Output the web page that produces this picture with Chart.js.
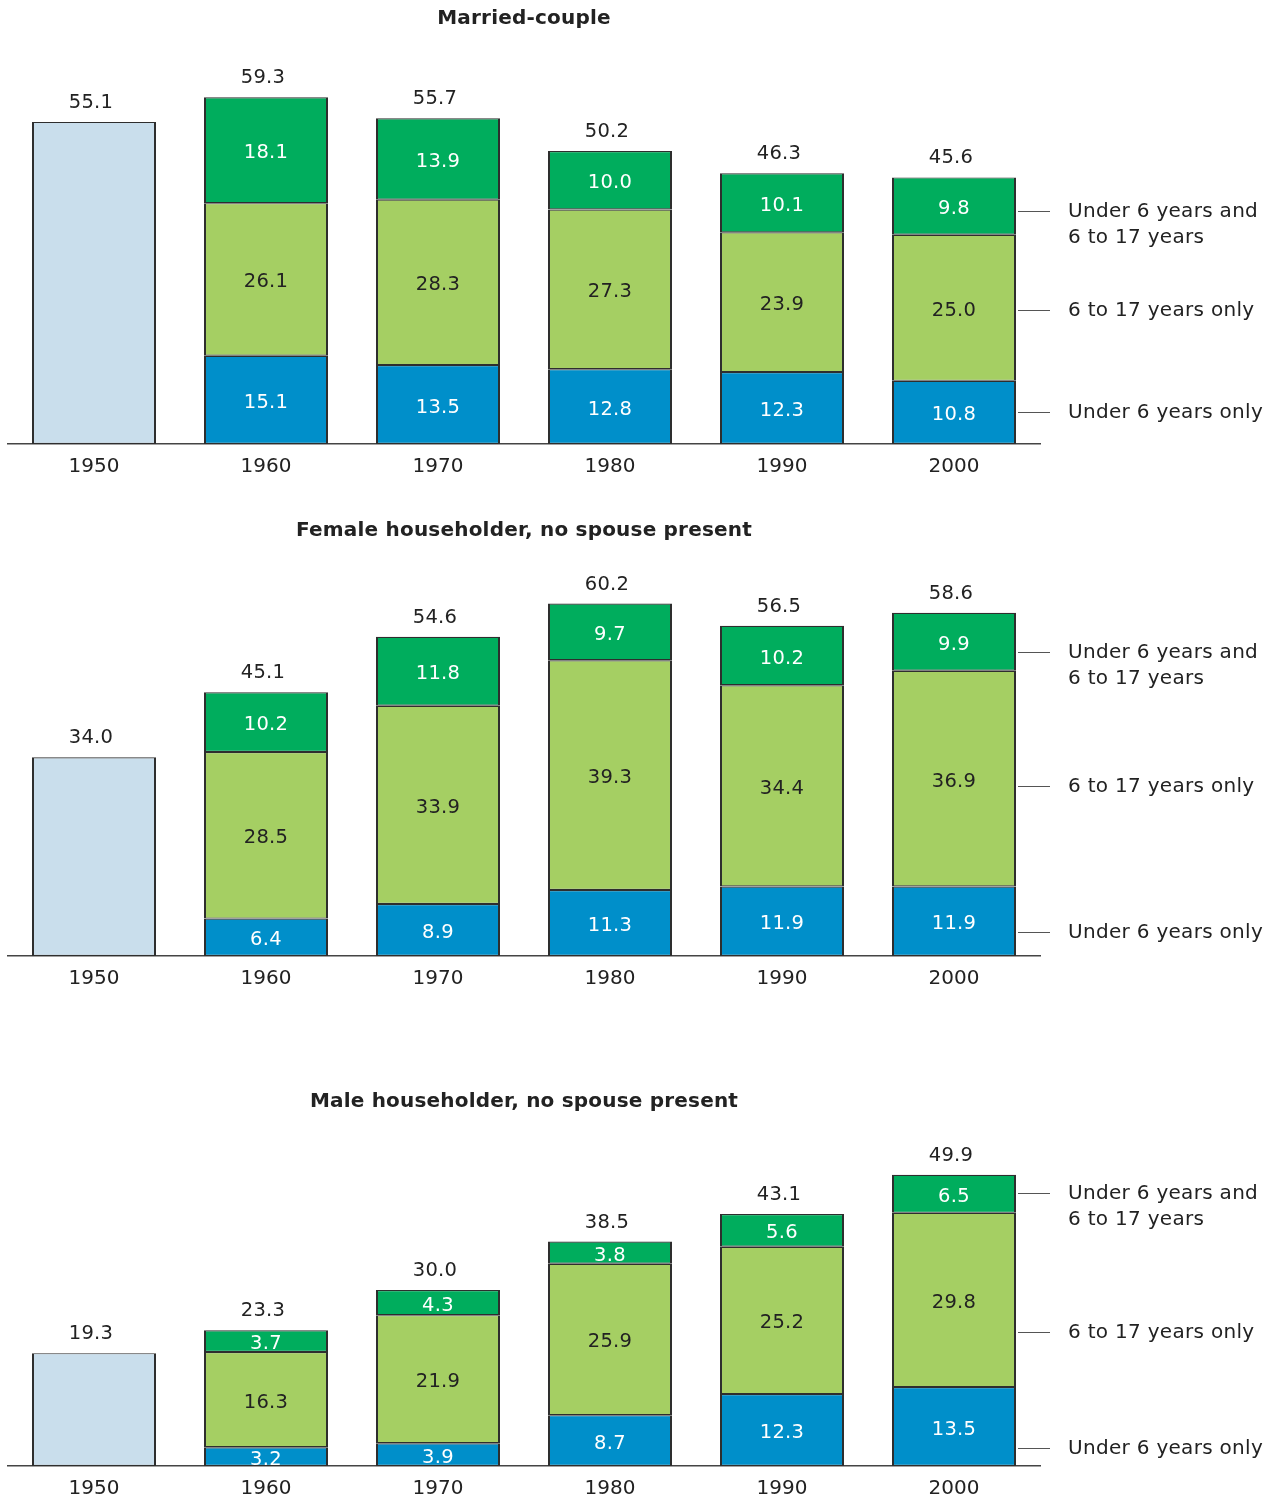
<!DOCTYPE html>
<html>
<head>
<meta charset="utf-8">
<script src="https://cdn.jsdelivr.net/npm/chart.js@4.4.0/dist/chart.umd.min.js"></script>
<style>
  html, body { margin: 0; padding: 0; background: #fff; overflow: hidden; }
  .panel { position: absolute; left: 0; }
</style>
</head>
<body>
<canvas id="married" class="panel" width="1276" height="500" style="top:0px"></canvas>
<canvas id="female" class="panel" width="1276" height="500" style="top:512px"></canvas>
<canvas id="male" class="panel" width="1276" height="500" style="top:1022px"></canvas>
<script>
// --- Data ---
const years = ['1950', '1960', '1970', '1980', '1990', '2000'];

const marriedTotal = [55.1, 59.3, 55.7, 50.2, 46.3, 45.6];
const marriedUnder6 = [null, 15.1, 13.5, 12.8, 12.3, 10.8];
const marriedSixTo17 = [null, 26.1, 28.3, 27.3, 23.9, 25.0];
const marriedBoth = [null, 18.1, 13.9, 10.0, 10.1, 9.8];

const femaleTotal = [34.0, 45.1, 54.6, 60.2, 56.5, 58.6];
const femaleUnder6 = [null, 6.4, 8.9, 11.3, 11.9, 11.9];
const femaleSixTo17 = [null, 28.5, 33.9, 39.3, 34.4, 36.9];
const femaleBoth = [null, 10.2, 11.8, 9.7, 10.2, 9.9];

const maleTotal = [19.3, 23.3, 30.0, 38.5, 43.1, 49.9];
const maleUnder6 = [null, 3.2, 3.9, 8.7, 12.3, 13.5];
const maleSixTo17 = [null, 16.3, 21.9, 25.9, 25.2, 29.8];
const maleBoth = [null, 3.7, 4.3, 3.8, 5.6, 6.5];

const legendBoth = ['Under 6 years and', '6 to 17 years'];
const legendSixTo17 = ['6 to 17 years only'];
const legendUnder6 = ['Under 6 years only'];

// --- Styles ---
const FONT = '"DejaVu Sans", "Noto Sans", sans-serif';
const TEXT = '#222';
const colors = {
  total: '#c9deec',
  under6: '#008fca',
  sixTo17: '#a5cf63',
  both: '#00ad5d'
};

// draws segment values, totals, panel title and the right-hand legend
const labelPlugin = {
  id: 'panelLabels',
  afterDatasetsDraw(chart, args, opts) {
    const ctx = chart.ctx;
    const area = chart.chartArea;
    ctx.save();
    ctx.textAlign = 'center';
    ctx.textBaseline = 'middle';
    ctx.font = '19.5px ' + FONT;
    ctx.letterSpacing = '0.3px';

    const tops = [];
    chart.data.datasets.forEach((ds, di) => {
      const meta = chart.getDatasetMeta(di);
      meta.data.forEach((el, i) => {
        const v = ds.data[i];
        if (v == null) return;
        tops[i] = tops[i] == null ? el.y : Math.min(tops[i], el.y);
        if (!ds.showInside) return;
        ctx.fillStyle = ds.labelColor;
        ctx.fillText(v.toFixed(1), el.x, (el.y + el.base) / 2 + 3);
      });
    });

    const xs = chart.getDatasetMeta(1).data;
    ctx.fillStyle = TEXT;
    opts.totals.forEach((t, i) => {
      ctx.fillText(t.toFixed(1), xs[i].x - 3, tops[i] - 19);
    });

    // title
    ctx.font = 'bold 20px ' + FONT;
    ctx.letterSpacing = '0.2px';
    ctx.fillText(opts.title, (area.left + area.right) / 2, area.bottom - opts.titleOffset + 2);

    // legend with leader lines
    const last = xs[xs.length - 1];
    const barRight = last.x + last.width / 2;
    ctx.font = '20px ' + FONT;
    ctx.letterSpacing = '0.3px';
    ctx.textAlign = 'left';
    ctx.strokeStyle = '#555';
    ctx.lineWidth = 1;
    opts.legend.forEach(item => {
      const y = Math.round(area.bottom - item.offset) + 0.5;
      ctx.beginPath();
      ctx.moveTo(barRight + 2, y);
      ctx.lineTo(barRight + 34, y);
      ctx.stroke();
      item.lines.forEach((line, li) => {
        ctx.fillText(line, barRight + 52, y + li * 26);
      });
    });
    ctx.restore();
  }
};

function makePanel(id, title, titleOffset, total, under6, sixTo17, both, legendOffsets) {
  const firstOnly = total.map((v, i) => (i === 0 ? v : null));
  const common = {
    borderColor: '#2e2e2e',
    borderWidth: { top: 1.2, bottom: 1.2, left: 2, right: 2 },
    borderSkipped: false,
    stack: 's'
  };
  new Chart(document.getElementById(id), {
    type: 'bar',
    data: {
      labels: years,
      datasets: [
        Object.assign({ label: 'Total', data: firstOnly, backgroundColor: colors.total, showInside: false }, common),
        Object.assign({ label: 'Under 6 years only', data: under6, backgroundColor: colors.under6, showInside: true, labelColor: '#fff' }, common),
        Object.assign({ label: '6 to 17 years only', data: sixTo17, backgroundColor: colors.sixTo17, showInside: true, labelColor: TEXT }, common),
        Object.assign({ label: 'Under 6 years and 6 to 17 years', data: both, backgroundColor: colors.both, showInside: true, labelColor: '#fff' }, common)
      ]
    },
    options: {
      responsive: false,
      animation: false,
      layout: { padding: { left: 8, right: 236, top: 64, bottom: 0 } },
      datasets: { bar: { barPercentage: 1, categoryPercentage: 0.721 } },
      plugins: {
        legend: { display: false },
        tooltip: { enabled: false },
        panelLabels: {
          title: title,
          titleOffset: titleOffset,
          totals: total,
          legend: [
            { lines: legendBoth, offset: legendOffsets[0] },
            { lines: legendSixTo17, offset: legendOffsets[1] },
            { lines: legendUnder6, offset: legendOffsets[2] }
          ]
        }
      },
      scales: {
        x: {
          stacked: true,
          grid: { display: false, drawTicks: false },
          border: { display: true, color: '#444', width: 1.5 },
          ticks: { color: TEXT, font: { family: FONT, size: 20 }, padding: 11 },
          afterFit: s => { s.height = 56; }
        },
        y: {
          stacked: true,
          display: false,
          min: 0,
          max: 65
        }
      }
    },
    plugins: [labelPlugin]
  });
}

makePanel('married', 'Married-couple', 427, marriedTotal, marriedUnder6, marriedSixTo17, marriedBoth, [233, 134, 32]);
makePanel('female', 'Female householder, no spouse present', 427, femaleTotal, femaleUnder6, femaleSixTo17, femaleBoth, [304, 170, 24]);
makePanel('male', 'Male householder, no spouse present', 366, maleTotal, maleUnder6, maleSixTo17, maleBoth, [273, 134, 18]);
</script>
</body>
</html>
